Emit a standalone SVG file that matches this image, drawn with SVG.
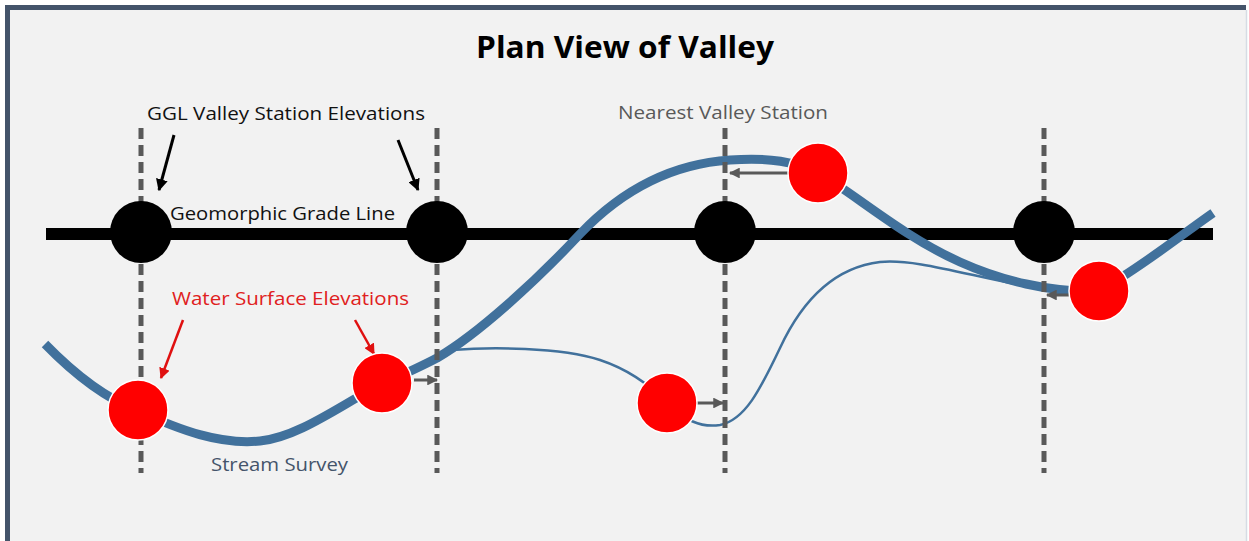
<svg xmlns="http://www.w3.org/2000/svg" width="1249" height="541" viewBox="0 0 1249 541">
<style>
.t{font-family:"Open Sans","Liberation Sans",sans-serif}
.dash{stroke:#595959;stroke-width:5;stroke-dasharray:11 6;fill:none}
.station{fill:#000}
.wse{fill:#ff0000;stroke:#fff;stroke-width:1.5}
.ga{stroke:#595959;stroke-width:3;fill:none;marker-end:url(#mg)}
.ba{stroke:#000;stroke-width:3;fill:none;marker-end:url(#mb)}
.ra{stroke:#e01010;stroke-width:2.5;fill:none;marker-end:url(#mr)}
.stream{stroke:#41719c;fill:none;stroke-linecap:butt}
</style>
<defs>
<marker id="mg" viewBox="0 0 10 10" refX="9" refY="5" markerWidth="3.6" markerHeight="3.6" orient="auto" markerUnits="strokeWidth"><path d="M0,0 L10,5 L0,10 z" fill="#595959"/></marker>
<marker id="mb" viewBox="0 0 10 10" refX="9" refY="5" markerWidth="4" markerHeight="4" orient="auto" markerUnits="strokeWidth"><path d="M0,0 L10,5 L0,10 z" fill="#000"/></marker>
<marker id="mr" viewBox="0 0 10 10" refX="9" refY="5" markerWidth="4.4" markerHeight="4.4" orient="auto" markerUnits="strokeWidth"><path d="M0,0 L10,5 L0,10 z" fill="#e01010"/></marker>
</defs>
<rect x="0" y="0" width="1249" height="541" fill="#ffffff"/>
<rect x="7" y="7" width="1239" height="540" fill="#f2f2f2"/>
<path d="M7.5,541 L7.5,7.5 L1246,7.5" stroke="#44546a" stroke-width="5" fill="none"/>
<line x1="1246.5" y1="10" x2="1246.5" y2="541" stroke="#d6dce4" stroke-width="1.5"/>

<text class="t" x="625" y="58" font-size="30" font-weight="bold" text-anchor="middle" textLength="298" lengthAdjust="spacingAndGlyphs" fill="#000">Plan View of Valley</text>

<g id="ggl-line"><line x1="46" y1="234" x2="1213" y2="234" stroke="#000" stroke-width="12"/></g>

<g id="connectors">
<path id="stream-survey" class="stream" stroke-width="9" d="M45,344 C80,380 110,400 138,411 C180,430 220,445 260,441 C300,437 345,402 382,384 C400,376 418,368 437,358 C478,334 535,282 580,234 C622,190 670,164 730,160 C770,157 795,162 818,173 C850,190 900,235 960,262 C1000,280 1050,293 1099,291 C1140,268 1180,236 1213,213"/>
<path id="water-path" class="stream" stroke-width="2.5" d="M452,350 C490,347 560,347 600,360 C630,370 650,385 667,403 C685,420 700,428 720,425 C745,420 760,390 780,348 C800,305 830,268 880,262 C920,258 980,280 1060,292"/>
<line class="dash" x1="141" y1="128" x2="141" y2="473"/>
<line class="dash" x1="437" y1="128" x2="437" y2="473"/>
<line class="dash" x1="725" y1="128" x2="725" y2="473"/>
<line class="dash" x1="1044" y1="128" x2="1044" y2="473"/>
<line class="ga" x1="414" y1="380" x2="437" y2="380"/>
<line class="ga" x1="697" y1="403" x2="723" y2="403"/>
<line class="ga" x1="789" y1="173" x2="730" y2="173"/>
<line class="ga" x1="1069" y1="295" x2="1047" y2="295"/>
<line class="ba" x1="174" y1="135" x2="159" y2="190"/>
<line class="ba" x1="398" y1="140" x2="418" y2="190"/>
<line class="ra" x1="183" y1="320" x2="161" y2="378"/>
<line class="ra" x1="355" y1="320" x2="374" y2="354"/>
</g>

<g id="station-1"><circle class="station" cx="141" cy="232" r="31"/></g>
<g id="station-2"><circle class="station" cx="437" cy="232" r="31"/></g>
<g id="station-3"><circle class="station" cx="725" cy="232" r="31"/></g>
<g id="station-4"><circle class="station" cx="1044" cy="232" r="31"/></g>

<g id="wse-1"><circle class="wse" cx="138" cy="410" r="30"/></g>
<g id="wse-2"><circle class="wse" cx="382" cy="383" r="30"/></g>
<g id="wse-3"><circle class="wse" cx="667" cy="403" r="30"/></g>
<g id="wse-4"><circle class="wse" cx="818" cy="173" r="30"/></g>
<g id="wse-5"><circle class="wse" cx="1099" cy="291" r="30"/></g>

<g id="label-ggl-stations"><text class="t" x="147" y="120" font-size="19" textLength="278" lengthAdjust="spacingAndGlyphs" fill="#111">GGL Valley Station Elevations</text></g>
<g id="label-ggl"><text class="t" x="170" y="220" font-size="18" textLength="225" lengthAdjust="spacingAndGlyphs" fill="#111">Geomorphic Grade Line</text></g>
<g id="label-nearest"><text class="t" x="618" y="119" font-size="19" textLength="210" lengthAdjust="spacingAndGlyphs" fill="#595959">Nearest Valley Station</text></g>
<g id="label-wse"><text class="t" x="172" y="305" font-size="19" textLength="237" lengthAdjust="spacingAndGlyphs" fill="#e02020">Water Surface Elevations</text></g>
<g id="label-stream"><text class="t" x="211" y="471" font-size="19" textLength="137" lengthAdjust="spacingAndGlyphs" fill="#44546a">Stream Survey</text></g>
</svg>
